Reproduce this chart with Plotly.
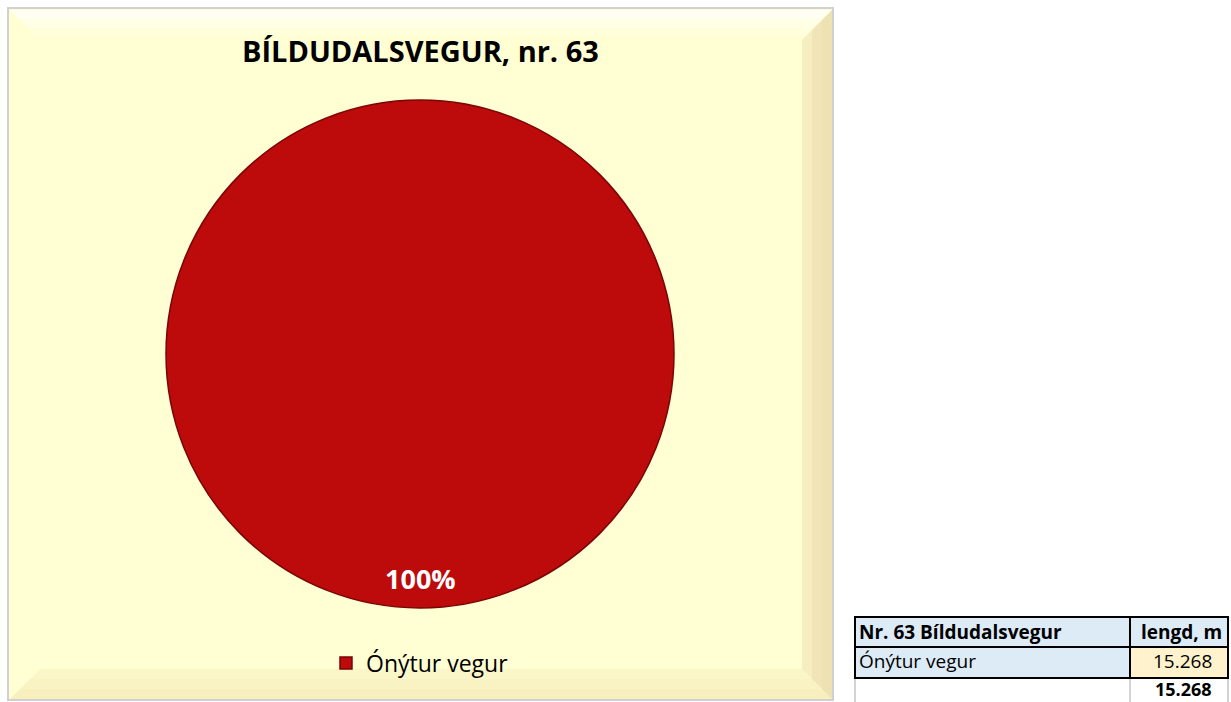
import plotly.graph_objects as go

# ---- data ----
categories = ["Ónýtur vegur"]
lengths_m = [15268]
chart_title = "BÍLDUDALSVEGUR, nr. 63"
table_header = ["Nr. 63 Bíldudalsvegur", "lengd, m"]
slice_colors = ["#BD0A0A"]

W, H = 1231, 702

def px(x):
    return x / W

def py(y):
    return 1 - y / H

def fmt(v):
    return f"{v:,}".replace(",", ".")

total = sum(lengths_m)
pcts = [round(100 * v / total) for v in lengths_m]

fig = go.Figure()

# pie
cx, cy, r = 420, 354, 254
fig.add_trace(go.Pie(
    labels=categories,
    values=lengths_m,
    marker=dict(colors=slice_colors, line=dict(color="#7A0505", width=1.5)),
    textinfo="none",
    hoverinfo="label+value+percent",
    sort=False,
    showlegend=True,
    domain=dict(x=[px(cx - r), px(cx + r)], y=[py(cy + r), py(cy - r)]),
))

shapes = []
# chart panel border & background
shapes.append(dict(type="rect", xref="paper", yref="paper",
                   x0=px(8), x1=px(833), y0=py(700), y1=py(8),
                   fillcolor="#FFFFD3", line=dict(color="#D0D0D0", width=2), layer="below"))
# bevels
L, T, R, B = 10, 10, 832, 699
bw = 30
def path(pts):
    return "M " + " L ".join(f"{px(x)},{py(y)}" for x, y in pts) + " Z"
# top bevel (white highlight)
for i, a in enumerate([0.5, 0.35, 0.2]):
    d = bw * (i + 1) / 3 * 0.85
    shapes.append(dict(type="path", xref="paper", yref="paper",
                       path=path([(L, T), (R, T), (R - d, T + d), (L + d, T + d)]),
                       fillcolor=f"rgba(255,255,255,{a})", line=dict(width=0), layer="below"))
# right bevel (tan)
for i, a in enumerate([0.3, 0.22, 0.12]):
    d = bw * (3 - i) / 3
    shapes.append(dict(type="path", xref="paper", yref="paper",
                       path=path([(R, T), (R, B), (R - d, B - d), (R - d, T + d)]),
                       fillcolor=f"rgba(225,200,150,{a})", line=dict(width=0), layer="below"))
# bottom bevel (tan)
for i, a in enumerate([0.2, 0.12, 0.06]):
    d = bw * (3 - i) / 3
    shapes.append(dict(type="path", xref="paper", yref="paper",
                       path=path([(L, B), (R, B), (R - d, B - d), (L + d, B - d)]),
                       fillcolor=f"rgba(235,210,160,{a})", line=dict(width=0), layer="below"))

# table
tx0, tx1, tx2 = 855, 1130, 1228
ty0, ty1, ty2, ty3 = 617, 647, 678, 705
blue = "#DDEBF7"
orange = "#FFF2CC"
for x in (tx0, tx1, tx2):
    shapes.append(dict(type="line", xref="paper", yref="paper",
                       x0=px(x), x1=px(x), y0=py(ty2), y1=py(ty3),
                       line=dict(color="#D4D4D4", width=2)))
cells = [
    (tx0, ty0, tx1, ty1, blue),
    (tx1, ty0, tx2, ty1, blue),
    (tx0, ty1, tx1, ty2, blue),
    (tx1, ty1, tx2, ty2, orange),
]
for x0, y0, x1, y1, c in cells:
    shapes.append(dict(type="rect", xref="paper", yref="paper",
                       x0=px(x0), x1=px(x1), y0=py(y1), y1=py(y0),
                       fillcolor=c, line=dict(color="black", width=2)))

annotations = []
def ann(x, y, text, size, color="black", xanchor="center"):
    annotations.append(dict(x=px(x), y=py(y), xref="paper", yref="paper",
                            xanchor=xanchor, yanchor="middle", text=text,
                            showarrow=False,
                            font=dict(family="Open Sans", size=size, color=color)))

ann(420, 50, f"<b>{chart_title}</b>", 29)
ann(cx, 578, f"<b>{pcts[0]}%</b>", 27, color="white")
ann(tx0 + 2, (ty0 + ty1) / 2, f"<b>{table_header[0]}</b>", 19, xanchor="left")
ann(tx2 - 4, (ty0 + ty1) / 2, f"<b>{table_header[1]}</b>", 19, xanchor="right")
ann(tx0 + 2, 661, categories[0], 19, xanchor="left")
ann(tx2 - 14, 661, fmt(lengths_m[0]), 19, xanchor="right")
ann(tx2 - 14, 689, f"<b>{fmt(total)}</b>", 18, xanchor="right")

fig.update_layout(
    width=W, height=H,
    margin=dict(l=0, r=0, t=0, b=0),
    paper_bgcolor="white",
    plot_bgcolor="white",
    shapes=shapes,
    annotations=annotations,
    legend=dict(x=px(420), y=py(663), xanchor="center", yanchor="middle",
                orientation="h", bgcolor="rgba(0,0,0,0)",
                font=dict(family="Open Sans", size=23, color="black")),
)

fig.write_html(
    "out.html",
    config={"displayModeBar": False},
    post_script="document.body.style.margin='0';document.body.style.overflow='hidden';",
)
